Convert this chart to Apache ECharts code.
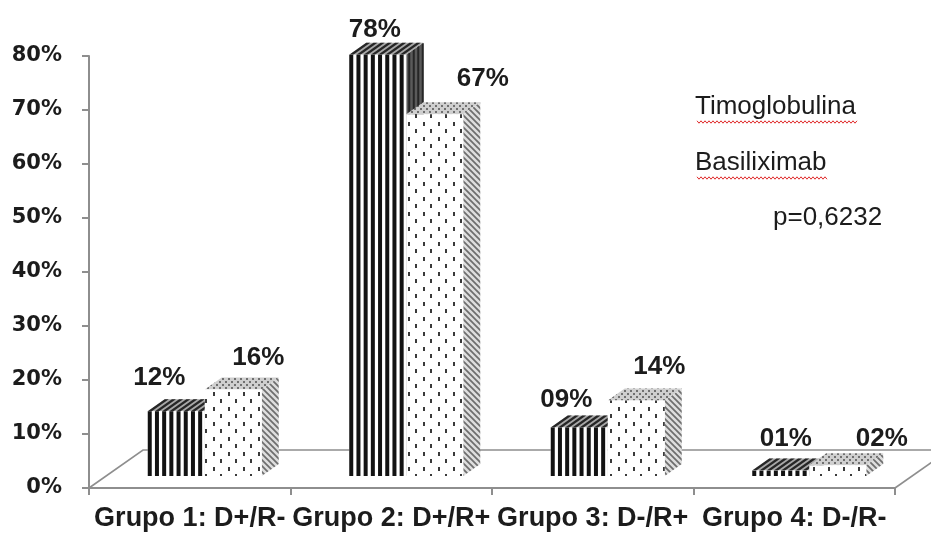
<!DOCTYPE html>
<html>
<head>
<meta charset="utf-8">
<script src="https://cdn.jsdelivr.net/npm/echarts@6/dist/echarts.min.js"></script>
<style>
  html, body { margin: 0; padding: 0; background: #ffffff; }
  #chart { width: 931px; height: 538px; }
</style>
</head>
<body>
<div id="chart"></div>
<script>
// ---- data ----
const categories = ['Grupo 1: D+/R-', 'Grupo 2: D+/R+', 'Grupo 3: D-/R+', 'Grupo 4: D-/R-'];
const timoglobulina = [0.12, 0.78, 0.09, 0.01];
const basiliximab = [0.16, 0.67, 0.14, 0.02];
const seriesNames = ['Timoglobulina', 'Basiliximab'];
const pValueText = 'p=0,6232';
const yMin = 0, yMax = 0.8, yStep = 0.1;

// ---- layout (pixel nudges for the value labels, relative to bar top) ----
const timoLabelShift = [[-17, -33], [-3, -25], [-13, -28], [5, -32]];
const basiLabelShift = [[25, -32], [48, -35], [23, -34], [44, -26]];

// pseudo-3D geometry
const BAR_W = 57;          // front face width of one bar
const PLANE_DX = 15;       // bars stand a little behind the front axis plane
const PLANE_DY = -12;
const DEPTH_DX = 17;       // bar depth
const DEPTH_DY = -12;
const FLOOR_DX = 54;       // whole floor depth
const FLOOR_DY = -38;
const AXIS_GRAY = '#8e8e8e';
const INK = '#1c1c1c';

function tile(w, h, draw) {
  const c = document.createElement('canvas');
  c.width = w; c.height = h;
  draw(c.getContext('2d'));
  return { image: c, repeat: 'repeat' };
}
// white with staggered dark dots
const dotFill = tile(15, 15, g => {
  g.fillStyle = '#ffffff'; g.fillRect(0, 0, 15, 15);
  g.fillStyle = '#3a3a3a';
  g.fillRect(3, 2, 2, 4);
  g.fillRect(10, 9, 2, 4);
});
// light grey lid with small dots
const lidFill = tile(6, 6, g => {
  g.fillStyle = '#cfcfcf'; g.fillRect(0, 0, 6, 6);
  g.fillStyle = '#707070';
  g.fillRect(0, 0, 2, 2);
  g.fillRect(3, 3, 2, 2);
});
// diagonal hatch for the side walls
const hatchFill = tile(6, 6, g => {
  g.fillStyle = '#dedede'; g.fillRect(0, 0, 6, 6);
  g.strokeStyle = '#6e6e6e'; g.lineWidth = 1.7;
  g.beginPath();
  g.moveTo(-1, -1); g.lineTo(7, 7);
  g.moveTo(-1, 5); g.lineTo(1, 7);
  g.moveTo(5, -1); g.lineTo(7, 1);
  g.stroke();
});

function pctText(v) {
  return String(Math.round(v * 100)).padStart(2, '0') + '%';
}

function labelEl(text, x, y) {
  return {
    type: 'text',
    z2: 20,
    style: {
      text: text, x: x, y: y,
      align: 'center', verticalAlign: 'middle',
      font: 'bold 26px "Liberation Sans", Arial, sans-serif',
      fill: INK
    }
  };
}

// vertical-striped bar (first series)
function renderStriped(params, api) {
  const ci = api.value(0), v = api.value(1);
  const p0 = api.coord([ci, 0]);
  const p1 = api.coord([ci, v]);
  const xL = p0[0] + PLANE_DX - BAR_W;
  const xR = xL + BAR_W;
  const yB = p0[1] + PLANE_DY;
  const yT = p1[1] + PLANE_DY;
  const kids = [];
  const period = 7.2, sw = 4;
  // side wall
  kids.push({ type: 'polygon', shape: { points: [[xR, yT], [xR + DEPTH_DX, yT + DEPTH_DY], [xR + DEPTH_DX, yB + DEPTH_DY], [xR, yB]] },
    style: { fill: '#5a5a5a' } });
  for (let s = 3; s < DEPTH_DX; s += 4.5) {
    const k = s / DEPTH_DX;
    kids.push({ type: 'line', shape: { x1: xR + s, y1: yT + DEPTH_DY * k, x2: xR + s, y2: yB + DEPTH_DY * k },
      style: { stroke: '#262626', lineWidth: 2 } });
  }
  // lid
  kids.push({ type: 'polygon', shape: { points: [[xL, yT], [xR, yT], [xR + DEPTH_DX, yT + DEPTH_DY], [xL + DEPTH_DX, yT + DEPTH_DY]] },
    style: { fill: '#a8a8a8' } });
  for (let x = xL; x < xR - 1; x += period) {
    const w = Math.min(sw, xR - x);
    kids.push({ type: 'polygon', shape: { points: [[x, yT], [x + w, yT], [x + w + DEPTH_DX, yT + DEPTH_DY], [x + DEPTH_DX, yT + DEPTH_DY]] },
      style: { fill: '#262626' } });
  }
  // front face
  kids.push({ type: 'rect', shape: { x: xL, y: yT, width: BAR_W, height: yB - yT }, style: { fill: '#ffffff' } });
  for (let x = xL; x < xR - 1; x += period) {
    kids.push({ type: 'rect', shape: { x: x, y: yT, width: Math.min(sw, xR - x), height: yB - yT }, style: { fill: '#121212' } });
  }
  const sh = timoLabelShift[ci];
  kids.push(labelEl(pctText(v), (xL + xR) / 2 + sh[0], yT + sh[1]));
  return { type: 'group', children: kids };
}

// dotted bar (second series)
function renderDotted(params, api) {
  const ci = api.value(0), v = api.value(1);
  const p0 = api.coord([ci, 0]);
  const p1 = api.coord([ci, v]);
  const xL = p0[0] + PLANE_DX;
  const xR = xL + BAR_W;
  const yB = p0[1] + PLANE_DY;
  const yT = p1[1] + PLANE_DY;
  const kids = [];
  kids.push({ type: 'polygon', shape: { points: [[xR, yT], [xR + DEPTH_DX, yT + DEPTH_DY], [xR + DEPTH_DX, yB + DEPTH_DY], [xR, yB]] },
    style: { fill: hatchFill } });
  kids.push({ type: 'polygon', shape: { points: [[xL, yT], [xR, yT], [xR + DEPTH_DX, yT + DEPTH_DY], [xL + DEPTH_DX, yT + DEPTH_DY]] },
    style: { fill: lidFill } });
  kids.push({ type: 'rect', shape: { x: xL, y: yT, width: BAR_W, height: yB - yT }, style: { fill: dotFill } });
  const sh = basiLabelShift[ci];
  kids.push(labelEl(pctText(v), (xL + xR) / 2 + sh[0], yT + sh[1]));
  return { type: 'group', children: kids };
}

const chart = echarts.init(document.getElementById('chart'), null, { renderer: 'canvas' });

const option = {
  animation: false,
  backgroundColor: '#ffffff',
  grid: { left: 89, right: 36, top: 56, bottom: 50, containLabel: false },
  xAxis: {
    type: 'category',
    data: categories,
    axisLine: { lineStyle: { color: AXIS_GRAY, width: 2 } },
    axisTick: { show: true, length: 7, lineStyle: { color: AXIS_GRAY, width: 2 } },
    axisLabel: {
      interval: 0, margin: 17,
      fontFamily: '"Liberation Sans", Arial, sans-serif',
      fontWeight: 'bold', fontSize: 27, color: INK
    },
    splitLine: { show: false }
  },
  yAxis: {
    type: 'value',
    min: yMin, max: yMax, interval: yStep,
    axisLine: { show: true, lineStyle: { color: AXIS_GRAY, width: 2 } },
    axisTick: { show: true, length: 7, lineStyle: { color: AXIS_GRAY, width: 2 } },
    axisLabel: {
      margin: 27,
      formatter: v => Math.round(v * 100) + '%',
      fontFamily: '"DejaVu Sans", sans-serif',
      fontWeight: 'bold', fontSize: 21, color: INK
    },
    splitLine: { show: false }
  },
  series: [
    {
      name: seriesNames[0], type: 'custom', z: 3,
      renderItem: renderStriped,
      encode: { x: 0, y: 1 },
      data: timoglobulina.map((v, i) => [i, v])
    },
    {
      name: seriesNames[1], type: 'custom', z: 4,
      renderItem: renderDotted,
      encode: { x: 0, y: 1 },
      data: basiliximab.map((v, i) => [i, v])
    }
  ]
};
chart.setOption(option);

// floor outline behind the bars, built from the grid corners
const rect = chart.getModel().getComponent('grid', 0).coordinateSystem.getRect();
const gx0 = rect.x, gx1 = rect.x + rect.width, gy = rect.y + rect.height;

// wavy red underline under a piece of text
const measure = document.createElement('canvas').getContext('2d');
function wavy(x, y, text, font) {
  measure.font = font;
  const w = measure.measureText(text).width;
  const pts = [];
  let up = true;
  for (let t = 0; t <= w; t += 2) { pts.push([x + t, y + (up ? -1.2 : 1.2)]); up = !up; }
  return { type: 'polyline', shape: { points: pts }, style: { stroke: '#e02a2a', lineWidth: 1, fill: null }, z: 10 };
}

const legendFont = '26px "Liberation Sans", Arial, sans-serif';
chart.setOption({
  graphic: [
    { type: 'polyline', z: 0,
      shape: { points: [[gx0, gy], [gx0 + FLOOR_DX, gy + FLOOR_DY], [931 + 40, gy + FLOOR_DY]] },
      style: { stroke: AXIS_GRAY, lineWidth: 1.6, fill: null } },
    { type: 'line', z: 0,
      shape: { x1: gx1, y1: gy, x2: gx1 + FLOOR_DX, y2: gy + FLOOR_DY },
      style: { stroke: AXIS_GRAY, lineWidth: 1.6 } },
    { type: 'text', z: 10, x: 695, y: 94,
      style: { text: seriesNames[0], font: legendFont, fill: INK, verticalAlign: 'top' } },
    wavy(697, 122, seriesNames[0], legendFont),
    { type: 'text', z: 10, x: 695, y: 150,
      style: { text: seriesNames[1], font: legendFont, fill: INK, verticalAlign: 'top' } },
    wavy(697, 178, seriesNames[1], legendFont),
    { type: 'text', z: 10, x: 773, y: 205,
      style: { text: pValueText, font: legendFont, fill: INK, verticalAlign: 'top' } }
  ]
});
</script>
</body>
</html>
